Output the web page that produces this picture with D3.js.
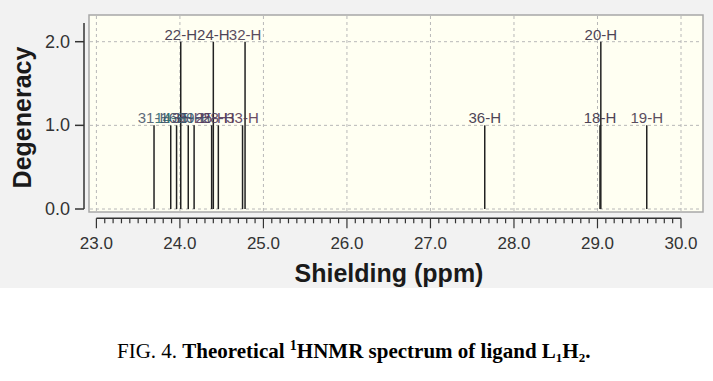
<!DOCTYPE html>
<html>
<head>
<meta charset="utf-8">
<script src="https://cdn.jsdelivr.net/npm/d3@7"></script>
<style>
  body { margin: 0; background: #fff; }
  svg { display: block; }
</style>
</head>
<body>
<svg width="713" height="381"></svg>
<script>
// peaks
const shifts = [23.69, 23.89, 23.96, 24.01, 24.10, 24.17, 24.38, 24.40, 24.46, 24.75, 24.78, 27.65, 29.03, 29.04, 29.59];
const degeneracy = [1, 1, 1, 2, 1, 1, 1, 2, 1, 1, 2, 1, 1, 2, 1];
const labels = ["31-H", "14-H", "16-H", "22-H", "35-H", "29-H", "25-H", "24-H", "28-H", "33-H", "32-H", "36-H", "18-H", "20-H", "19-H"];
const labelColors = ["#4d5a6e", "#2f6f74", "#3b4f66", "#3a3046", "#4a3a5e", "#3f5b70", "#5b3a5e", "#3a3046", "#4f3f5f", "#5a3a55", "#4a3a4e", "#3a3046", "#3a3046", "#3a3046", "#4a3a4e"];
const xTicks = [23, 24, 25, 26, 27, 28, 29, 30];
const yTicks = [0, 1, 2];

const svg = d3.select("svg");

// grey panel behind the chart
svg.append("rect").attr("x", 0).attr("y", 0).attr("width", 713).attr("height", 288).attr("fill", "#f2f2f2");

const x = d3.scaleLinear().domain([23, 30]).range([96.4, 681]);
const y = d3.scaleLinear().domain([0, 2]).range([209, 41.7]);

// plot box
svg.append("rect")
  .attr("x", 89).attr("y", 15).attr("width", 614).attr("height", 197)
  .attr("fill", "#fffff2").attr("stroke", "#a8a8a8").attr("stroke-width", 1.5);

// grid
svg.append("g").selectAll("line").data(yTicks).enter().append("line")
  .attr("x1", 90).attr("x2", 702)
  .attr("y1", d => y(d)).attr("y2", d => y(d))
  .attr("stroke", "#b8b8b8").attr("stroke-dasharray", "3,3");
svg.append("g").selectAll("line").data(xTicks).enter().append("line")
  .attr("x1", d => x(d)).attr("x2", d => x(d))
  .attr("y1", 16).attr("y2", 211)
  .attr("stroke", "#b8b8b8").attr("stroke-dasharray", "3,3");

// peaks
const peaks = shifts.map((s, i) => ({ s, d: degeneracy[i], label: labels[i], color: labelColors[i] }));

svg.append("g").selectAll("line").data(peaks).enter().append("line")
  .attr("x1", d => x(d.s)).attr("x2", d => x(d.s))
  .attr("y1", y(0)).attr("y2", d => y(d.d))
  .attr("stroke", "#222").attr("stroke-width", 1.5);

svg.append("g").selectAll("text").data(peaks).enter().append("text")
  .attr("x", d => x(d.s)).attr("y", d => y(d.d) - 2)
  .attr("text-anchor", "middle")
  .attr("font-family", "Liberation Sans, Arial, sans-serif")
  .attr("font-size", 15)
  .attr("fill", d => d.color)
  .attr("opacity", 0.9)
  .text(d => d.label);

// x axis, ticks pointing down
const xAxis = svg.append("g").attr("transform", "translate(0,218.3)");
xAxis.append("line").attr("x1", x(23)).attr("x2", x(30)).attr("stroke", "#333").attr("stroke-width", 1.5);
xAxis.selectAll("line.minor").data(d3.range(0, 71)).enter().append("line")
  .attr("class", "minor")
  .attr("x1", d => x(23 + d / 10)).attr("x2", d => x(23 + d / 10))
  .attr("y1", 0).attr("y2", d => d % 10 === 0 ? 10 : 5)
  .attr("stroke", "#333").attr("stroke-width", 1.2);
xAxis.selectAll("text").data(xTicks).enter().append("text")
  .attr("x", d => x(d)).attr("y", 31)
  .attr("text-anchor", "middle")
  .attr("font-family", "Liberation Sans, Arial, sans-serif")
  .attr("font-size", 17).attr("fill", "#333")
  .text(d => d3.format(".1f")(d));

// y axis
const yAxis = svg.append("g");
yAxis.append("line").attr("x1", 84).attr("x2", 84).attr("y1", 23).attr("y2", y(0)).attr("stroke", "#333").attr("stroke-width", 1.5);
yAxis.selectAll("line.t").data(yTicks).enter().append("line")
  .attr("class", "t")
  .attr("x1", 75).attr("x2", 84)
  .attr("y1", d => y(d)).attr("y2", d => y(d))
  .attr("stroke", "#333").attr("stroke-width", 1.5);
yAxis.selectAll("text").data(yTicks).enter().append("text")
  .attr("x", 70).attr("y", d => y(d) + 6)
  .attr("text-anchor", "end")
  .attr("font-family", "Liberation Sans, Arial, sans-serif")
  .attr("font-size", 18).attr("fill", "#333")
  .text(d => d3.format(".1f")(d));

// axis titles
svg.append("text")
  .attr("transform", "translate(31,117.5) rotate(-90)")
  .attr("text-anchor", "middle")
  .attr("font-family", "Liberation Sans, Arial, sans-serif")
  .attr("font-size", 25).attr("font-weight", "bold").attr("fill", "#1a1a1a")
  .text("Degeneracy");
svg.append("text")
  .attr("x", 389).attr("y", 282)
  .attr("text-anchor", "middle")
  .attr("font-family", "Liberation Sans, Arial, sans-serif")
  .attr("font-size", 25).attr("font-weight", "bold").attr("fill", "#1a1a1a")
  .text("Shielding (ppm)");

// caption
const cap = svg.append("text")
  .attr("x", 117).attr("y", 358)
  .attr("font-family", "Liberation Serif, Times New Roman, serif")
  .attr("font-size", 21).attr("fill", "#000");
cap.append("tspan").text("FIG. 4. ");
cap.append("tspan").attr("font-weight", "bold").text("Theoretical ");
cap.append("tspan").attr("font-weight", "bold").attr("font-size", 14).attr("dy", -8).text("1");
cap.append("tspan").attr("font-weight", "bold").attr("dy", 8).text("HNMR spectrum of ligand L");
cap.append("tspan").attr("font-weight", "bold").attr("font-size", 13).attr("dy", 4).text("1");
cap.append("tspan").attr("font-weight", "bold").attr("dy", -4).text("H");
cap.append("tspan").attr("font-weight", "bold").attr("font-size", 13).attr("dy", 4).text("2");
cap.append("tspan").attr("font-weight", "bold").attr("dy", -4).text(".");
</script>
</body>
</html>
